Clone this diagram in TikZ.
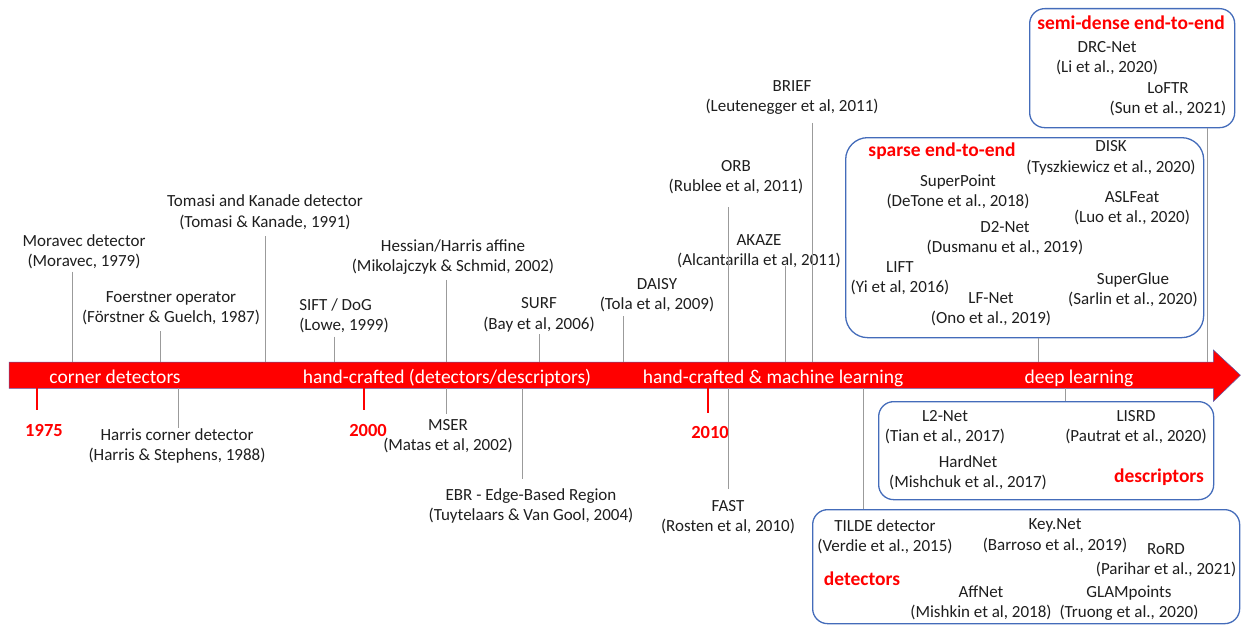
\documentclass[tikz,border=0pt]{standalone}
\usepackage{fontspec}
\setmainfont{Carlito}
\usetikzlibrary{calc}
\definecolor{boxblue}{RGB}{68,108,186}
\definecolor{conngray}{RGB}{155,155,155}
\definecolor{txt}{RGB}{30,30,30}
\definecolor{barline}{RGB}{90,90,170}
\begin{document}
\begin{tikzpicture}[x=1pt,y=-1pt,
  item/.style={font=\fontsize{17}{20.5}\selectfont, align=center, inner sep=0pt, text=txt},
  conn/.style={draw=conngray, line width=1pt},
  grp/.style={draw=boxblue, line width=1.3pt, rounded corners=15pt, inner sep=0pt, anchor=north west},
  ttl/.style={font=\fontsize{19.5}{22}\selectfont\bfseries, text=red, inner sep=0pt, anchor=base},
  yr/.style={font=\fontsize{18.5}{22}\selectfont\bfseries, text=red, inner sep=0pt, anchor=base},
  tick/.style={draw=red, line width=2pt},
  barlbl/.style={font=\fontsize{19.5}{22}\selectfont, text=white, inner sep=0pt, anchor=base}]
\useasboundingbox (0,0) rectangle (1244,626);

% x positions of connectors
\coordinate (xmor) at (72,0);
\coordinate (xfoe) at (160,0);
\coordinate (xhar) at (178,0);
\coordinate (xtom) at (265,0);
\coordinate (xsift) at (334,0);
\coordinate (xhes) at (446,0);
\coordinate (xebr) at (522,0);
\coordinate (xsurf) at (539,0);
\coordinate (xdaisy) at (623,0);
\coordinate (xorb) at (728,0);
\coordinate (xakaze) at (785,0);
\coordinate (xbrief) at (812,0);
\coordinate (xtilde) at (863,0);
\coordinate (xsparse) at (1038,0);
\coordinate (xdesc) at (1065,0);
\coordinate (xsemi) at (1207,0);
\coordinate (x1975) at (37,0);
\coordinate (x2000) at (364,0);
\coordinate (x2010) at (708,0);

% timeline bar
\node[fill=red, minimum width=1204pt, minimum height=26pt, inner sep=0pt, anchor=north west] (bar) at (9,362) {};
\filldraw[fill=red, draw=barline, line width=0.5pt] (bar.north west) -- (bar.north east) -- ([yshift=12pt]bar.north east) -- ([xshift=27pt]bar.east) -- ([yshift=-13pt]bar.south east) -- (bar.south east) -- (bar.south west) -- cycle;

\node[barlbl] (era1) at (115,383) {corner detectors};
\node[barlbl] (era2) at (447,383) {hand-crafted (detectors/descriptors)};
\node[barlbl] (era3) at (773,383) {hand-crafted \& machine learning};
\node[barlbl] (era4) at (1079,383) {deep learning};

% years
\draw[tick] (bar.south -| x1975) -- ++(0,22);
\draw[tick] (bar.south -| x2000) -- ++(0,22);
\draw[tick] (bar.south -| x2010) -- ++(0,25);
\node[yr] (y1975) at (44,436) {1975};
\node[yr] (y2000) at (368,436) {2000};
\node[yr] (y2010) at (710,438) {2010};

% items above
\node[item] (moravec) at (84,252) {Moravec detector\\(Moravec, 1979)};
\node[item] (foerstner) at (171,308) {Foerstner operator\\(Förstner \& Guelch, 1987)};
\node[item] (tomasi) at (265,212.5) {Tomasi and Kanade detector\\(Tomasi \& Kanade, 1991)};
\node[item, align=left] (sift) at (344,316) {SIFT / DoG\\(Lowe, 1999)};
\node[item] (hessian) at (453,257) {Hessian/Harris affine\\(Mikolajczyk \& Schmid, 2002)};
\node[item] (surf) at (539,315) {SURF\\(Bay et al, 2006)};
\node[item] (daisy) at (657,295) {DAISY\\(Tola et al, 2009)};
\node[item] (orb) at (736,177) {ORB\\(Rublee et al, 2011)};
\node[item] (akaze) at (759,251) {AKAZE\\(Alcantarilla et al, 2011)};
\node[item] (brief) at (792,97.5) {BRIEF\\(Leutenegger et al, 2011)};

% items below
\node[item] (harris) at (177,446) {Harris corner detector\\(Harris \& Stephens, 1988)};
\node[item] (mser) at (448,436) {MSER\\(Matas et al, 2002)};
\node[item] (ebr) at (531,506) {EBR - Edge-Based Region\\(Tuytelaars \& Van Gool, 2004)};
\node[item] (fast) at (728,517) {FAST\\(Rosten et al, 2010)};

% connectors above
\draw[conn] ($(moravec.south -| xmor)+(0,2)$) -- (xmor |- bar.north);
\draw[conn] ($(foerstner.south -| xfoe)+(0,6)$) -- (xfoe |- bar.north);
\draw[conn] ($(tomasi.south -| xtom)+(0,6)$) -- (xtom |- bar.north);
\draw[conn] ($(sift.south -| xsift)+(0,3)$) -- (xsift |- bar.north);
\draw[conn] ($(hessian.south -| xhes)+(0,5)$) -- (xhes |- bar.north);
\draw[conn] ($(surf.south -| xsurf)+(0,2)$) -- (xsurf |- bar.north);
\draw[conn] ($(daisy.south -| xdaisy)+(0,4)$) -- (xdaisy |- bar.north);
\draw[conn] ($(orb.south -| xorb)+(0,13)$) -- (xorb |- bar.north);
\draw[conn] ($(akaze.south -| xakaze)+(0,-2)$) -- (xakaze |- bar.north);
\draw[conn] ($(brief.south -| xbrief)+(0,8)$) -- (xbrief |- bar.north);

% connectors below
\draw[conn] (bar.south -| xhar) -- (xhar |- harris.north);
\draw[conn] (bar.south -| xhes) -- ($(xhes |- mser.north)+(0,-5)$);
\draw[conn] (bar.south -| xebr) -- ($(xebr |- ebr.north)+(0,-9)$);
\draw[conn] (bar.south -| xorb) -- ($(xorb |- fast.north)+(0,-11)$);

% group boxes
\node[grp, minimum width=205pt, minimum height=119pt] (semibox) at (1029,8) {};
\node[grp, rounded corners=22pt, minimum width=358pt, minimum height=200pt] (sparsebox) at (845,137) {};
\node[grp, minimum width=335pt, minimum height=98pt] (descbox) at (878,401) {};
\node[grp, minimum width=427pt, minimum height=114pt] (detbox) at (812,509) {};

\draw[conn] (semibox.south -| xsemi) -- (xsemi |- bar.north);
\draw[conn] (sparsebox.south -| xsparse) -- (xsparse |- bar.north);
\draw[conn] (bar.south -| xdesc) -- (xdesc |- descbox.north);
\draw[conn] (bar.south -| xtilde) -- (xtilde |- detbox.north);

% semi-dense
\node[ttl] (semittl) at (1131,30) {semi-dense end-to-end};
\node[item] (drcnet) at (1107,58) {DRC-Net\\(Li et al., 2020)};
\node[item] (loftr) at (1168,99) {LoFTR\\(Sun et al., 2021)};

% sparse
\node[ttl] (sparsettl) at (942,156) {sparse end-to-end};
\node[item] (disk) at (1111,158) {DISK\\(Tyszkiewicz et al., 2020)};
\node[item] (superpoint) at (958,192) {SuperPoint\\(DeTone et al., 2018)};
\node[item] (aslfeat) at (1132,208) {ASLFeat\\(Luo et al., 2020)};
\node[item] (d2net) at (1005,238) {D2-Net\\(Dusmanu et al., 2019)};
\node[item] (lift) at (900,278) {LIFT\\(Yi et al, 2016)};
\node[item] (lfnet) at (991,309) {LF-Net\\(Ono et al., 2019)};
\node[item] (superglue) at (1133,290) {SuperGlue\\(Sarlin et al., 2020)};

% descriptors
\node[item] (l2net) at (945,427) {L2-Net\\(Tian et al., 2017)};
\node[item] (lisrd) at (1136,427) {LISRD\\(Pautrat et al., 2020)};
\node[item] (hardnet) at (968,473) {HardNet\\(Mishchuk et al., 2017)};
\node[ttl] (descttl) at (1159,482) {descriptors};

% detectors
\node[item] (tilde) at (885,537) {TILDE detector\\(Verdie et al., 2015)};
\node[item] (keynet) at (1055,535.5) {Key.Net\\(Barroso et al., 2019)};
\node[item] (rord) at (1166,560) {RoRD\\(Parihar et al., 2021)};
\node[ttl] (detttl) at (862,585) {detectors};
\node[item] (affnet) at (981,603) {AffNet\\(Mishkin et al, 2018)};
\node[item] (glam) at (1129,603) {GLAMpoints\\(Truong et al., 2020)};
\end{tikzpicture}
\end{document}
